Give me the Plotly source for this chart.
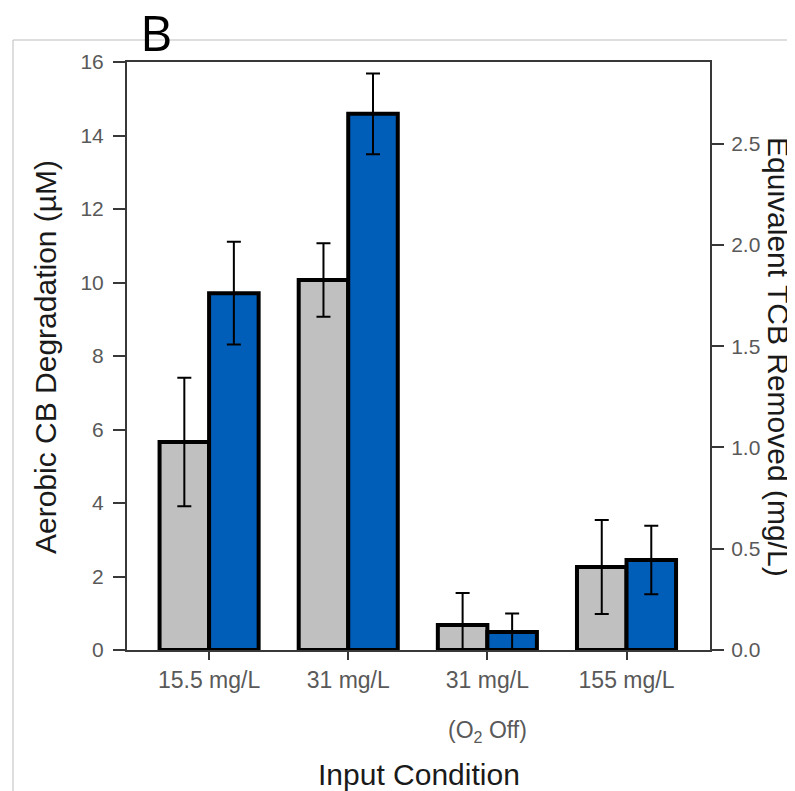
import plotly.graph_objects as go

categories = ["15.5 mg/L", "31 mg/L", "31 mg/L", "155 mg/L"]
gray_vals = [5.66, 10.07, 0.68, 2.26]
gray_err = [1.75, 1.0, 0.87, 1.28]
blue_vals = [9.71, 14.59, 0.49, 2.45]
blue_err = [1.4, 1.1, 0.5, 0.93]
left_ticks = [0, 2, 4, 6, 8, 10, 12, 14, 16]
right_ticks = [0.0, 0.5, 1.0, 1.5, 2.0, 2.5]
TCB_MW = 0.18145  # mg/L per uM

x = list(range(len(categories)))
OFF = 8  # page body margin
W, H = 795 - OFF, 791 - OFF
L, R, T, B = 127 - OFF, 710 - OFF, 62 - OFF, 650 - OFF
pw, ph = R - L, B - T

def px(xp):
    return (xp - OFF - L) / pw

def py(yp):
    return (B - (yp - OFF)) / ph

FAM = "Liberation Sans, Arial, sans-serif"
xtickfont = dict(family=FAM, size=23, color="#595959")
ytickfont = dict(family=FAM, size=21, color="#595959")
titlefont = dict(family=FAM, size=30, color="#1a1a1a")
AX = "#383838"

fig = go.Figure()
fig.add_trace(go.Bar(
    x=x, y=gray_vals, name="gray",
    marker=dict(color="#c0c0c0", line=dict(color="black", width=4)),
    error_y=dict(type="data", array=gray_err, color="black", thickness=2, width=7),
))
fig.add_trace(go.Bar(
    x=x, y=blue_vals, name="blue",
    marker=dict(color="#005eb8", line=dict(color="black", width=4)),
    error_y=dict(type="data", array=blue_err, color="black", thickness=2, width=7),
))
fig.add_trace(go.Scatter(
    x=x, y=[v * TCB_MW for v in blue_vals], yaxis="y2", mode="markers",
    marker=dict(opacity=0), showlegend=False, hoverinfo="skip",
))

fig.update_layout(
    width=W, height=H,
    margin=dict(l=L, r=W - R, t=T, b=H - B, pad=0),
    paper_bgcolor="white", plot_bgcolor="white",
    showlegend=False,
    barmode="group", bargap=0.288, bargroupgap=0,
    xaxis=dict(
        range=[-0.59, 3.6], tickmode="array", tickvals=x, ticktext=categories,
        showline=True, linecolor=AX, linewidth=2, mirror=True,
        ticks="outside", ticklen=8, tickwidth=2, tickcolor=AX,
        tickfont=xtickfont, showgrid=False, zeroline=False,
    ),
    yaxis=dict(
        range=[0, 16], tickvals=left_ticks,
        showline=True, linecolor=AX, linewidth=2,
        ticks="outside", ticklen=12, tickwidth=2, tickcolor=AX,
        tickfont=ytickfont, showgrid=False, zeroline=False,
        ticklabelstandoff=5,
    ),
    yaxis2=dict(
        range=[0, 16 * TCB_MW], tickvals=right_ticks, tickformat=".1f",
        overlaying="y", side="right",
        showline=True, linecolor=AX, linewidth=2,
        ticks="outside", ticklen=12, tickwidth=2, tickcolor=AX,
        tickfont=ytickfont, showgrid=False, zeroline=False,
        ticklabelstandoff=3,
    ),
    annotations=[
        dict(text="(O<sub>2</sub> Off)", x=2, xref="x", y=py(731), yref="paper",
             showarrow=False, font=xtickfont, xanchor="center", yanchor="middle"),
        dict(text="Input Condition", x=px(419), xref="paper", y=py(774), yref="paper",
             showarrow=False, font=titlefont, xanchor="center", yanchor="middle"),
        dict(text="Aerobic CB Degradation (µM)", x=px(45), xref="paper", y=py(357),
             yref="paper", showarrow=False, font=titlefont, textangle=-90,
             xanchor="center", yanchor="middle"),
        dict(text="Equivalent TCB Removed (mg/L)", x=px(779), xref="paper", y=py(357),
             yref="paper", showarrow=False, font=titlefont, textangle=90,
             xanchor="center", yanchor="middle"),
        dict(text="B", x=px(156), xref="paper", y=py(32), yref="paper",
             showarrow=False, font=dict(family="Open Sans, Noto Sans, sans-serif", size=50, color="black"),
             xanchor="center", yanchor="middle"),
    ],
    shapes=[
        dict(type="line", xref="paper", yref="paper", x0=px(13), x1=px(800), y0=py(40), y1=py(40),
             line=dict(color="#bdbdbd", width=1), layer="below"),
        dict(type="line", xref="paper", yref="paper", x0=px(13), x1=px(13), y0=py(40), y1=py(800),
             line=dict(color="#bdbdbd", width=1), layer="below"),
    ],
)

fig.write_html("out.html")
